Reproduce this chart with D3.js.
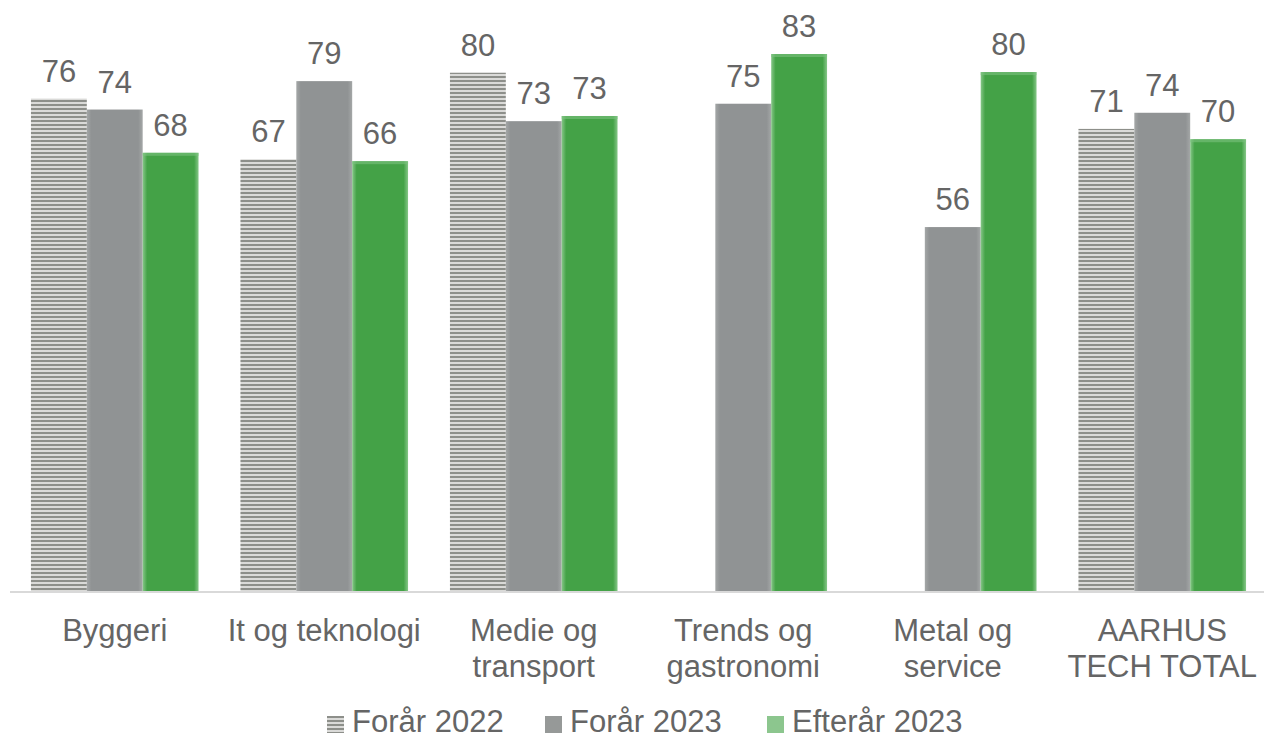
<!DOCTYPE html>
<html>
<head>
<meta charset="utf-8">
<script src="https://cdn.jsdelivr.net/npm/d3@7/dist/d3.min.js"></script>
<style>
  html, body { margin: 0; padding: 0; background: #fff; }
  svg { display: block; }
  text { font-family: "Liberation Sans", Arial, sans-serif; fill: #656565; }
</style>
</head>
<body>
<svg id="chart" width="1264" height="739"></svg>
<script>
const categories = ["Byggeri", "It og teknologi", "Medie og transport", "Trends og gastronomi", "Metal og service", "AARHUS TECH TOTAL"];
const categoryLines = [["Byggeri"], ["It og teknologi"], ["Medie og", "transport"], ["Trends og", "gastronomi"], ["Metal og", "service"], ["AARHUS", "TECH TOTAL"]];
const seriesNames = ["Forår 2022", "Forår 2023", "Efterår 2023"];
const forar2022 = [76.1, 66.7, 80.1, null, null, 71.4];
const forar2023 = [74.4, 78.8, 72.6, 75.3, 56.2, 73.9];
const efterar2023 = [67.7, 66.4, 73.4, 83.0, 80.2, 69.8];
const seriesValues = [forar2022, forar2023, efterar2023];

const svg = d3.select("#chart");
const defs = svg.append("defs");

// hatch pattern
const pat = defs.append("pattern").attr("id", "hatch").attr("patternUnits", "userSpaceOnUse")
  .attr("width", 8).attr("height", 4);
pat.append("rect").attr("width", 8).attr("height", 4).attr("fill", "#dadad8");
pat.append("rect").attr("width", 8).attr("height", 2).attr("fill", "#8d8f8a");

function edgeGrad(id, edge, mid) {
  const g = defs.append("linearGradient").attr("id", id).attr("x1", 0).attr("x2", 1).attr("y1", 0).attr("y2", 0);
  g.append("stop").attr("offset", "0%").attr("stop-color", edge);
  g.append("stop").attr("offset", "8%").attr("stop-color", mid);
  g.append("stop").attr("offset", "92%").attr("stop-color", mid);
  g.append("stop").attr("offset", "100%").attr("stop-color", edge);
}
edgeGrad("gGreen", "#86c788", "#44a247");
edgeGrad("gGray", "#a4a7a7", "#909394");

const fills = ["url(#hatch)", "url(#gGray)", "url(#gGreen)"];
const legendFills = ["url(#hatch)", "#969998", "#8cc68e"];
const fmt = d3.format(".0f");

const baseY = 590;
const y = d3.scaleLinear().domain([0, 83]).range([baseY, 54]);
const x0 = d3.scaleBand().domain(categories).range([10, 1267]).padding(0);
const step = x0.bandwidth();
const x1 = d3.scaleBand().domain(seriesNames).range([step * 0.1, step * 0.9]).padding(0);

// axis line
svg.append("line").attr("x1", 10).attr("x2", 1264).attr("y1", baseY + 2).attr("y2", baseY + 2)
  .attr("stroke", "#d9d9d9").attr("stroke-width", 2);

const groups = svg.selectAll("g.cat").data(categories).enter().append("g")
  .attr("class", "cat").attr("transform", d => `translate(${x0(d)},0)`);

groups.each(function(cat, ci) {
  const g = d3.select(this);
  seriesNames.forEach((s, si) => {
    const v = seriesValues[si][ci];
    if (v == null) return;
    const bx = x1(s), bw = x1.bandwidth();
    g.append("rect").attr("x", bx).attr("y", y(v)).attr("width", bw).attr("height", baseY + 1 - y(v))
      .attr("fill", fills[si]);
    if (si === 2) {
      g.append("rect").attr("x", bx).attr("y", y(v)).attr("width", bw).attr("height", 3)
        .attr("fill", "#7cc17f").attr("opacity", 0.6);
    }
    g.append("text").attr("x", bx + bw / 2).attr("y", y(v) - 17)
      .attr("text-anchor", "middle").attr("font-size", 31).text(fmt(v));
  });
  const t = g.append("text").attr("x", step / 2).attr("y", 641).attr("text-anchor", "middle").attr("font-size", 31);
  categoryLines[ci].forEach((line, li) => {
    t.append("tspan").attr("x", step / 2).attr("y", 641 + li * 36).text(line);
  });
});

// legend
const legendX = [327, 545, 767];
seriesNames.forEach((s, i) => {
  svg.append("rect").attr("x", legendX[i]).attr("y", 716).attr("width", 17).attr("height", 17)
    .attr("fill", legendFills[i]);
  svg.append("text").attr("x", legendX[i] + 25).attr("y", 732).attr("font-size", 31).text(s);
});
</script>
</body>
</html>
